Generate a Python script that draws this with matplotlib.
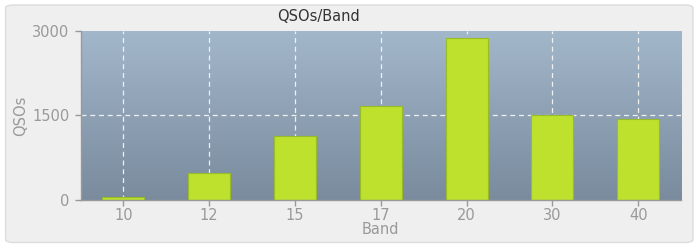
import matplotlib
matplotlib.use('Agg')
import matplotlib.pyplot as plt
from matplotlib.patches import FancyBboxPatch
import numpy as np

# data
bands = ['10', '12', '15', '17', '20', '30', '40']
qsos = [50, 470, 1135, 1670, 2875, 1500, 1440]
yticks = [0, 1500, 3000]

fig = plt.figure(figsize=(7, 2.5), dpi=100)
fig.patch.set_facecolor('white')

# rounded light panel behind everything
panel = FancyBboxPatch((0.008, 0.03), 0.982, 0.95, boxstyle='round,pad=0,rounding_size=0.012',
                       transform=fig.transFigure, facecolor='#efefef', edgecolor='#dcdcdc',
                       linewidth=1, zorder=-10)
fig.patches.append(panel)

ax = fig.add_axes([0.115, 0.2, 0.858, 0.677])
ax.set_facecolor('none')

x = np.arange(len(bands))

# vertical gradient background of the plot area
grad = np.linspace(0, 1, 256).reshape(-1, 1)
cmap = matplotlib.colors.LinearSegmentedColormap.from_list('bg', ['#798b9d', '#a3b7cb'])
ax.imshow(grad, aspect='auto', cmap=cmap, origin='lower',
          extent=[0, 1, 0, 1], transform=ax.transAxes, zorder=0)

ax.bar(x, qsos, width=0.49, color='#bde12d', edgecolor='#98bb2a', linewidth=0.8, zorder=3)

ax.set_xlim(-0.5, len(bands) - 0.5)
ax.set_ylim(0, 3000)
ax.set_xticks(x)
ax.set_xticklabels(bands)
ax.set_yticks(yticks)

ax.grid(True, color='#f0f0f0', linestyle=(0, (4, 3)), linewidth=0.9)
for gl in ax.get_xgridlines() + ax.get_ygridlines():
    gl.set_zorder(1)
# no dashed line along the top and bottom edges
ax.get_ygridlines()[-1].set_visible(False)
ax.get_ygridlines()[0].set_visible(False)

for s in ['top', 'right']:
    ax.spines[s].set_visible(False)
for s in ['left', 'bottom']:
    ax.spines[s].set_color('#999999')
    ax.spines[s].set_linewidth(1)
    ax.spines[s].set_zorder(4)

ax.tick_params(axis='both', colors='#999999', labelcolor='#999999', labelsize=10.5,
               length=4, width=1)
ax.tick_params(axis='y', pad=4)
ax.tick_params(axis='x', pad=2)

ax.set_xlabel('Band', color='#999999', fontsize=10.5, labelpad=-1)
ax.set_ylabel('QSOs', color='#999999', fontsize=10.5, labelpad=3)
fig.text(0.455, 0.935, 'QSOs/Band', ha='center', va='center', color='#333333', fontsize=10.5)

fig.savefig('out.png', dpi=100, facecolor=fig.get_facecolor())
